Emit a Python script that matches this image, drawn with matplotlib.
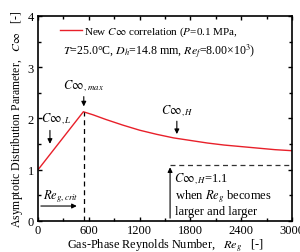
import matplotlib
matplotlib.use("Agg")
import matplotlib.pyplot as plt
from matplotlib.ticker import MultipleLocator

plt.rcParams['font.family'] = ['Liberation Serif', 'DejaVu Serif']
plt.rcParams['mathtext.fontset'] = 'stix'

# Data
re_g = [0, 535, 650, 800, 1000, 1200, 1400, 1600, 1800, 2000, 2200, 2400, 2600, 2800, 3000]
c_inf = [1.0, 2.13, 2.07, 1.98, 1.87, 1.77, 1.69, 1.62, 1.57, 1.52, 1.48, 1.45, 1.42, 1.39, 1.37]
re_crit = 540
c_max = 2.13
c_h_limit = 1.1
re_h_arrow = 1560

x_ticks = [0, 600, 1200, 1800, 2400, 3000]
y_ticks = [0, 1, 2, 3, 4]

fig = plt.figure(figsize=(3.0, 2.53), dpi=100)
ax = fig.add_axes([0.127, 0.123, 0.846, 0.81])

ax.plot(re_g, c_inf, color='#e8202a', lw=1.0,
        label=r'New $C\infty$ correlation ($P$=0.1 MPa,')

# critical Re vertical dashed line
ax.plot([re_crit, re_crit], [0, c_max], ls=(0, (4, 3)), color='black', lw=0.9)
# asymptote dashed line
ax.plot([re_h_arrow, 3000], [c_h_limit, c_h_limit], ls=(0, (4, 3)), color='#333333', lw=0.9)

ax.set_xlim(0, 3000)
ax.set_ylim(0, 4)
ax.set_xticks(x_ticks)
ax.set_yticks(y_ticks)
ax.xaxis.set_minor_locator(MultipleLocator(300))
ax.yaxis.set_minor_locator(MultipleLocator(0.5))
ax.tick_params(which='both', direction='in', top=True, right=True, labelsize=9, pad=3)
ax.tick_params(axis='x', which='both', pad=2.5)
ax.tick_params(which='major', length=3, width=1)
ax.tick_params(which='minor', length=2, width=1)
for s in ax.spines.values():
    s.set_linewidth(1.2)

ax.set_xlabel(r'Gas-Phase Reynolds Number,   $Re_g$   [-]', fontsize=8.8, labelpad=0)
ax.set_ylabel(r'Asymptotic Distribution Parameter,   $C\infty$   [-]', fontsize=8.5, labelpad=2)

leg = ax.legend(loc='upper left', bbox_to_anchor=(0.06, 0.99), frameon=False,
                fontsize=8, handlelength=2.0, handletextpad=0.2, borderaxespad=0.2)
ax.text(0.1, 0.83, r'$T$=25.0°C, $D_h$=14.8 mm, $Re_f$=8.00×10$^3$)',
        transform=ax.transAxes, fontsize=8.6, ha='left', va='center')

arrow = dict(arrowstyle='-|>', color='black', lw=0.8, mutation_scale=7)
# C_inf,L
ax.annotate('', xy=(140, 1.45), xytext=(140, 1.82), arrowprops=arrow)
ax.text(40, 2.0, r'$C\infty_{,L}$', fontsize=9, ha='left', va='center')
# C_inf,max
ax.annotate('', xy=(540, 2.18), xytext=(540, 2.48), arrowprops=arrow)
ax.text(540, 2.65, r'$C\infty_{,\,max}$', fontsize=9, ha='center', va='center')
# C_inf,H
ax.annotate('', xy=(1640, 1.64), xytext=(1640, 2.0), arrowprops=arrow)
ax.text(1640, 2.17, r'$C\infty_{,H}$', fontsize=9, ha='center', va='center')
# Re_g,crit
ax.annotate('', xy=(490, 0.29), xytext=(0, 0.29), arrowprops=arrow)
ax.text(60, 0.5, r'$Re_{g,crit}$', fontsize=9, ha='left', va='center')
# asymptote arrow
ax.annotate('', xy=(re_h_arrow, c_h_limit), xytext=(re_h_arrow, 0), arrowprops=arrow)
ax.text(1610, 0.83, r'$C\infty_{,H}$=1.1', fontsize=9, ha='left', va='center')
ax.text(1620, 0.49, r'when $Re_g$ becomes', fontsize=9, ha='left', va='center')
ax.text(1620, 0.19, 'larger and larger', fontsize=9, ha='left', va='center')

fig.savefig('out.png', dpi=100)
